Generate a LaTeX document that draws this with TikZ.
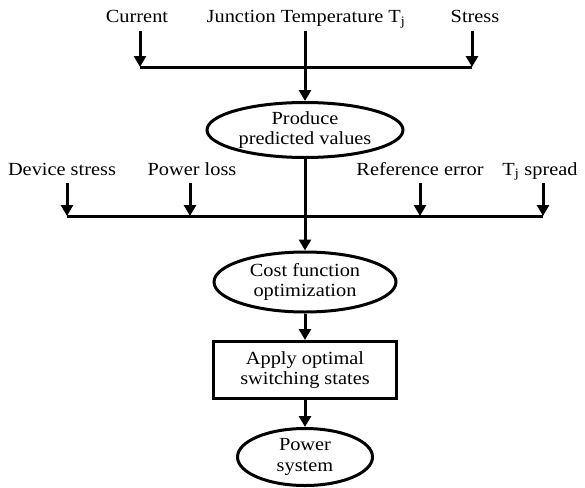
\documentclass[tikz,border=0pt]{standalone}
\usepackage{fontspec}
\setmainfont{Liberation Serif}[FakeStretch=1.1]
\usetikzlibrary{arrows.meta,shapes.geometric}
\begin{document}
\begin{tikzpicture}[x=1pt,y=-1pt,
  txt/.style={font=\fontsize{18.5}{20.5}\selectfont},
  lbl/.style={txt,anchor=base,inner sep=0pt},
  ell/.style={txt,draw,ellipse,line width=3pt,inner sep=0pt,align=center},
  box/.style={txt,draw,rectangle,line width=3pt,inner sep=0pt,align=center},
  conn/.style={line width=3pt},
  arr/.style={line width=3pt,-{Triangle[width=12pt,length=11pt]}}]
\useasboundingbox (0,0) rectangle (585,487);
% top labels
\node[lbl] (cur) at (137,23) {Current};
\node[lbl] (jt) at (306,23) {Junction Temperature T\textsubscript{j}};
\node[lbl] (st) at (475,23) {Stress};
\coordinate (cs) at (140,31);
\coordinate (js) at (305,31);
\coordinate (ss) at (472,31);
\coordinate (cb) at (140,67);
\coordinate (sb) at (472,67);
% ellipses and box
\node[ell,minimum width=196pt,minimum height=55pt] (prod) at (305,130) {Produce\\predicted values};
\node[ell,minimum width=182pt,minimum height=60pt] (cost) at (305,282) {Cost function\\optimization};
\node[box,minimum width=183pt,minimum height=57pt] (apply) at (305,370) {Apply optimal\\switching states};
\node[ell,minimum width=135pt,minimum height=57pt] (pow) at (305,457) {Power\\system};
% second row labels
\node[lbl] (ds) at (62,175) {Device stress};
\node[lbl] (pl) at (192,175) {Power loss};
\node[lbl] (re) at (420,175) {Reference error};
\node[lbl] (ts) at (540,175) {T\textsubscript{j} spread};
\coordinate (d1) at (67,183);
\coordinate (p1) at (190,183);
\coordinate (r1) at (420,183);
\coordinate (t1) at (543,183);
\coordinate (d2) at (67,216);
\coordinate (p2) at (190,216);
\coordinate (r2) at (420,216);
\coordinate (t2) at (543,216);
% top connectors
\draw[arr] (cs) -- (cb);
\draw[arr] (ss) -- (sb);
\draw[conn] (cb) -- (sb);
\draw[arr] (js) -- (prod.north);
% second row connectors
\draw[arr] (d1) -- (d2);
\draw[arr] (p1) -- (p2);
\draw[arr] (r1) -- (r2);
\draw[arr] (t1) -- (t2);
\draw[conn] (d2) -- (t2);
\draw[arr] (prod.south) -- (cost.north);
\draw[arr] (cost.south) -- (apply.north);
\draw[arr] (apply.south) -- (pow.north);
\end{tikzpicture}
\end{document}
